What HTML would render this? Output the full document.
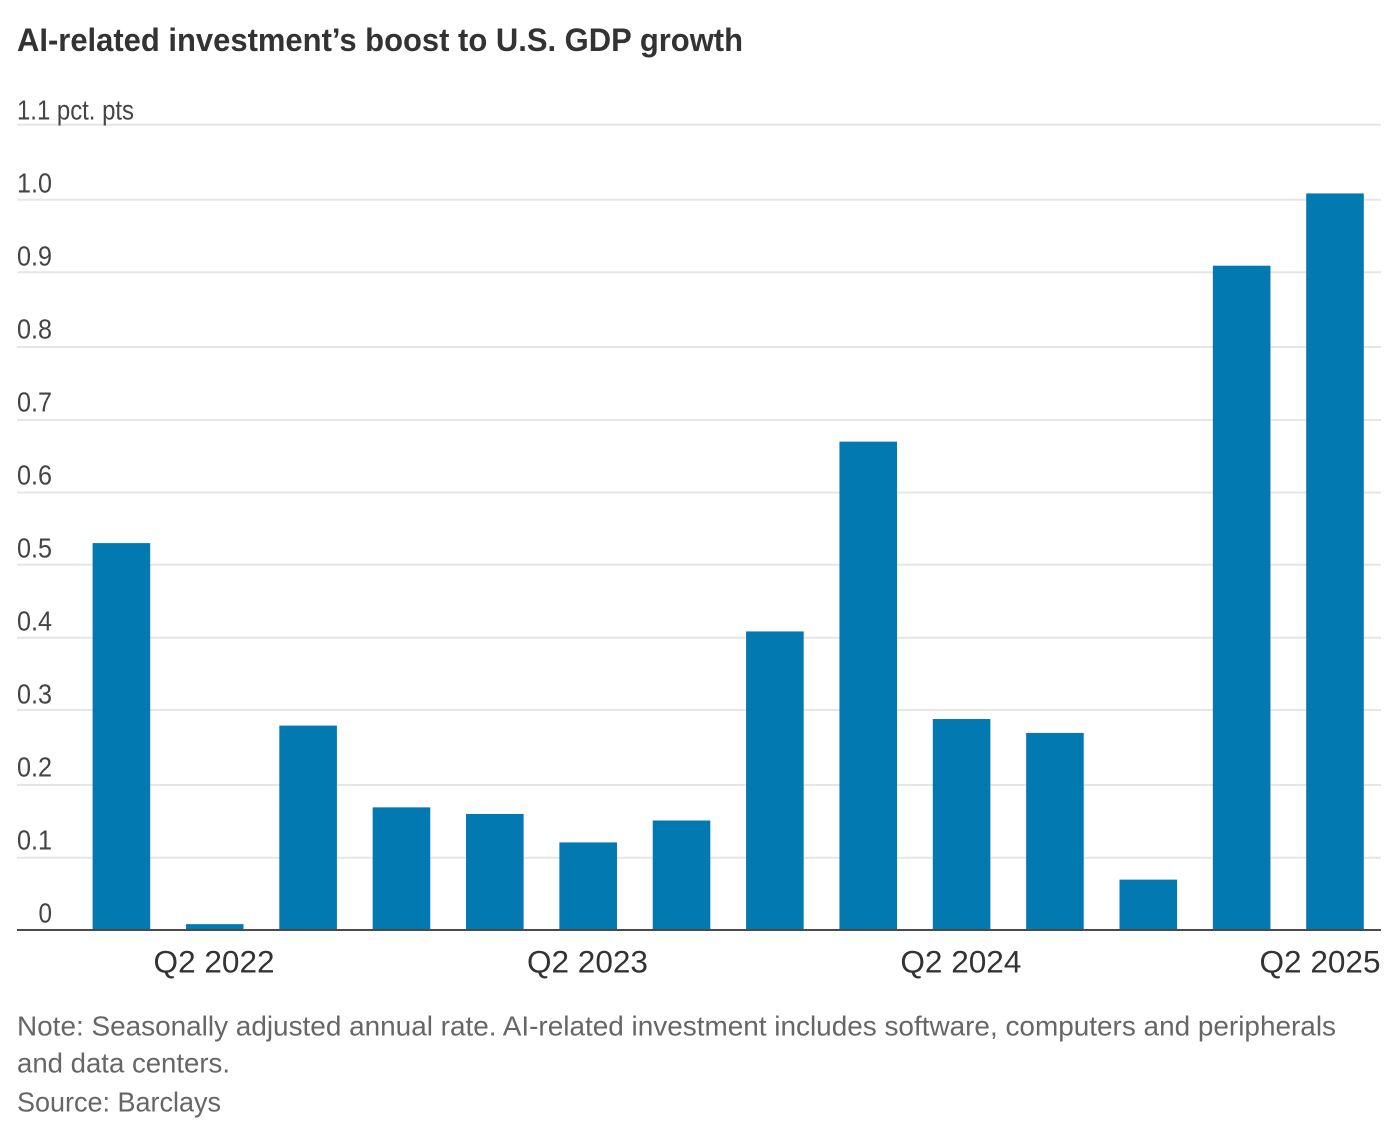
<!DOCTYPE html>
<html>
<head>
<meta charset="utf-8">
<style>
html,body{margin:0;padding:0;background:#fff;width:1392px;height:1144px;overflow:hidden}
svg{display:block;font-family:"Liberation Sans",sans-serif}
</style>
</head>
<body>
<svg id="chart" width="1392" height="1144" viewBox="0 0 1392 1144" xmlns="http://www.w3.org/2000/svg">
<text x="17" y="51" font-size="32" font-weight="700" fill="#333" textLength="726" lengthAdjust="spacingAndGlyphs">AI-related investment’s boost to U.S. GDP growth</text>
<g id="grid"></g>
<g id="bars"></g>
<g id="xlabels"></g>
<line x1="17" x2="1381" y1="930" y2="930" stroke="#4a4a4a" stroke-width="2"/>
<text x="17" y="1035.5" font-size="28" fill="#666" textLength="1319" lengthAdjust="spacingAndGlyphs">Note: Seasonally adjusted annual rate. AI-related investment includes software, computers and peripherals</text>
<text x="17" y="1072.5" font-size="28" fill="#666" textLength="213" lengthAdjust="spacingAndGlyphs">and data centers.</text>
<text x="17" y="1111.5" font-size="28" fill="#666" textLength="204" lengthAdjust="spacingAndGlyphs">Source: Barclays</text>
</svg>
<script>
const categories = ["Q1 2022","Q2 2022","Q3 2022","Q4 2022","Q1 2023","Q2 2023","Q3 2023","Q4 2023","Q1 2024","Q2 2024","Q3 2024","Q4 2024","Q1 2025","Q2 2025"];
const values = [0.53,0.008,0.28,0.168,0.159,0.12,0.15,0.409,0.669,0.289,0.27,0.069,0.91,1.009];
const yTicks = [0,0.1,0.2,0.3,0.4,0.5,0.6,0.7,0.8,0.9,1.0,1.1];
const yTickLabels = ["0","0.1","0.2","0.3","0.4","0.5","0.6","0.7","0.8","0.9","1.0","1.1 pct. pts"];
const xTickCategories = ["Q2 2022","Q2 2023","Q2 2024","Q2 2025"];

const NS = "http://www.w3.org/2000/svg";
function yScale(v){ return 930 - v * 730; }
function xScale(i){ return 121.4 + i * (1335 - 121.4) / 13; }
const barWidth = 57.6;
// Small pixel snapping of the gridlines in the source image, by tick index.
const gridSnap = [0,0.7,1,-1,-0.3,-0.3,0.5,1,1,-0.7,-0.2,-2.3];

const grid = document.getElementById("grid");
yTicks.forEach((t, i) => {
  const y = yScale(t);
  if (t > 0) {
    const l = document.createElementNS(NS, "line");
    
    
    l.setAttribute("x1", 17);
    l.setAttribute("x2", 1381);
    l.setAttribute("y1", y + gridSnap[i]);
    l.setAttribute("y2", y + gridSnap[i]);
    l.setAttribute("stroke", "#e6e6e6");
    l.setAttribute("stroke-width", 2);
    grid.appendChild(l);
  }
  const tx = document.createElementNS(NS, "text");
  
  
  tx.setAttribute("x", t === 0 ? 38.5 : 17);
  tx.setAttribute("y", y - 7.6);
  tx.setAttribute("font-size", 28);
  tx.setAttribute("fill", "#444");
  tx.setAttribute("textLength", t === 0 ? 13.5 : (t > 1.05 ? 117 : 35));
  tx.setAttribute("lengthAdjust", "spacingAndGlyphs");
  tx.textContent = yTickLabels[i];
  grid.appendChild(tx);
});

const bars = document.getElementById("bars");
values.forEach((v, i) => {
  const r = document.createElementNS(NS, "rect");
  
  
  r.setAttribute("x", xScale(i) - barWidth / 2);
  r.setAttribute("y", yScale(v));
  r.setAttribute("width", barWidth);
  r.setAttribute("height", yScale(0) - yScale(v));
  r.setAttribute("fill", "#0279b1");
  bars.appendChild(r);
});

const xl = document.getElementById("xlabels");
xTickCategories.forEach((label, i) => {
  const t = document.createElementNS(NS, "text");
  
  
  const last = i === xTickCategories.length - 1;
  t.setAttribute("x", last ? 1380.5 : xScale(categories.indexOf(label)) - 0.7);
  t.setAttribute("y", 972.5);
  t.setAttribute("font-size", 31.5);
  t.setAttribute("fill", "#333");
  t.setAttribute("text-anchor", last ? "end" : "middle");
  t.setAttribute("textLength", 121);
  t.setAttribute("lengthAdjust", "spacingAndGlyphs");
  t.textContent = label;
  xl.appendChild(t);
});
</script>
</body>
</html>
